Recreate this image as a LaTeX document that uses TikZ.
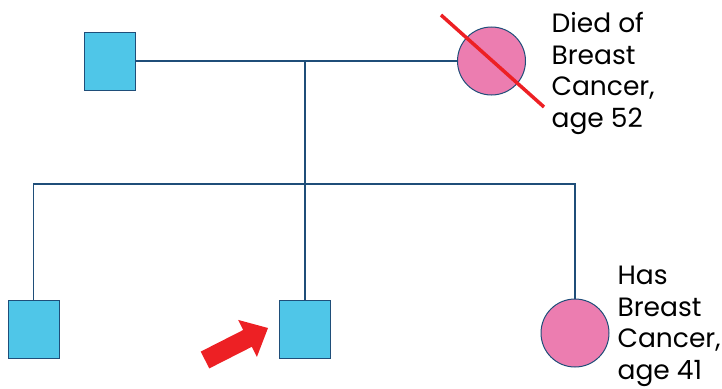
\documentclass[tikz,border=0pt]{standalone}
\usepackage{fontspec}
\setmainfont{Poppins}
\usepackage{tikz}
\usetikzlibrary{arrows}

\definecolor{kinblue}{HTML}{4FC6E8}
\definecolor{kinpink}{HTML}{EC7DB0}
\definecolor{kinline}{HTML}{1F4E79}
\definecolor{alertred}{HTML}{ED2024}

\begin{document}
\begin{tikzpicture}[x=1pt,y=-1pt,line width=1.2pt,draw=kinline,
      male/.style={rectangle,draw=kinline,line width=1pt,fill=kinblue,
        minimum width=51pt,minimum height=58pt,inner sep=0pt},
      female/.style={circle,draw=kinline,line width=1pt,fill=kinpink,
        minimum size=68pt,inner sep=0pt},
      note/.style={anchor=base west,align=left,inner sep=0pt,
        font=\fontsize{26.5}{31.5}\selectfont}]

      \useasboundingbox (0,0) rectangle (722,388);

      \node[male] (father) at (109.5,61) {};
      \node[female] (mother) at (491.5,61) {};
      \node[male] (son1) at (33.5,329) {};
      \node[male] (son2) at (305,329.5) {};
      \node[female] (daughter) at (575,333) {};

      \coordinate (mid) at (305,61);
      \coordinate (sib) at (305,184);

      \path (father) edge (mother)
      (mid) edge (sib)
      (son2) edge (sib);
      \draw (son1.north) -- (son1.north |- sib) -- (daughter.north |- sib)
      -- (daughter.north);

      % deceased mark
      \coordinate (crossA) at (441,15);
      \coordinate (crossB) at (544,107);
      \draw[alertred,line width=3.5pt] (crossA) -- (crossB);

      \node[note] (momnote) at (551,127) {Died of\\Breast\\Cancer,\\age 52};
      \node[note] (daughternote) at (617,379) {Has\\Breast\\Cancer,\\age 41};

      % proband pointer
      \fill[alertred] (200.7,351.6) -- (243.2,330.0) -- (238.1,319.9) -- (268,328)
      -- (256.9,356.9) -- (251.8,346.8) -- (209.3,368.4) -- cycle;
    \end{tikzpicture}
\end{document}
